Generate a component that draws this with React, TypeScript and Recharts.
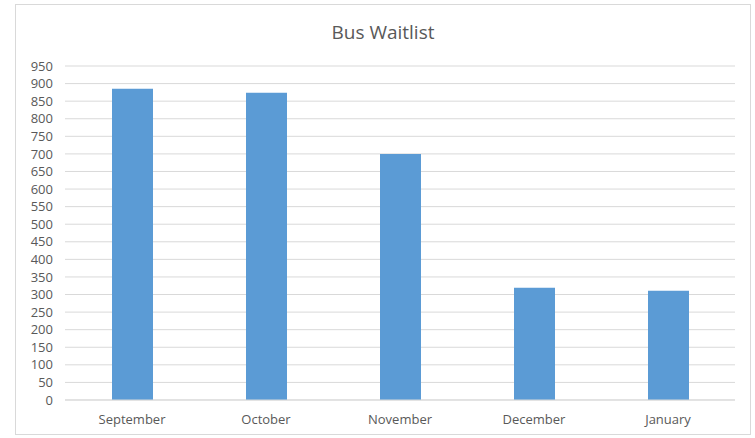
import { BarChart, Bar, XAxis, YAxis, CartesianGrid } from 'recharts'

const months = ['September', 'October', 'November', 'December', 'January']
const waitlist = [885, 874, 700, 319, 311]
const yTicks = [0, 50, 100, 150, 200, 250, 300, 350, 400, 450, 500, 550, 600, 650, 700, 750, 800, 850, 900, 950]

const data = months.map((m, i) => ({ month: m, value: waitlist[i] }))

const font = "'Open Sans', 'Liberation Sans', sans-serif"
const tickStyle = { fontSize: 13, fill: '#595959', fontFamily: font }

export default function App() {
  return (
    <div style={{ position: 'absolute', left: 0, top: 0, width: 755, height: 438, background: '#fff' }}>
      <div
        style={{
          position: 'absolute',
          left: 15,
          top: 4,
          width: 736,
          height: 431,
          border: '1px solid #d9d9d9',
          boxSizing: 'border-box',
        }}
      />
      <div
        style={{
          position: 'absolute',
          left: 15,
          width: 736,
          top: 19,
          textAlign: 'center',
          fontFamily: font,
          fontSize: 19,
          color: '#595959',
        }}
      >
        Bus Waitlist
      </div>
      <div style={{ position: 'absolute', left: 0, top: 0 }}>
        <BarChart width={755} height={438} data={data} margin={{ top: 66, right: 20, bottom: 0, left: 15 }}>
          <CartesianGrid vertical={false} stroke="#d9d9d9" />
          <XAxis
            dataKey="month"
            height={38}
            tickLine={false}
            axisLine={{ stroke: '#d9d9d9' }}
            tick={tickStyle}
            tickMargin={9}
          />
          <YAxis
            width={50}
            domain={[0, 950]}
            ticks={yTicks}
            interval={0}
            axisLine={false}
            tickLine={false}
            tickSize={0}
            tickMargin={12}
            tick={tickStyle}
          />
          <Bar dataKey="value" fill="#5b9bd5" barSize={41} isAnimationActive={false} />
        </BarChart>
      </div>
    </div>
  )
}
